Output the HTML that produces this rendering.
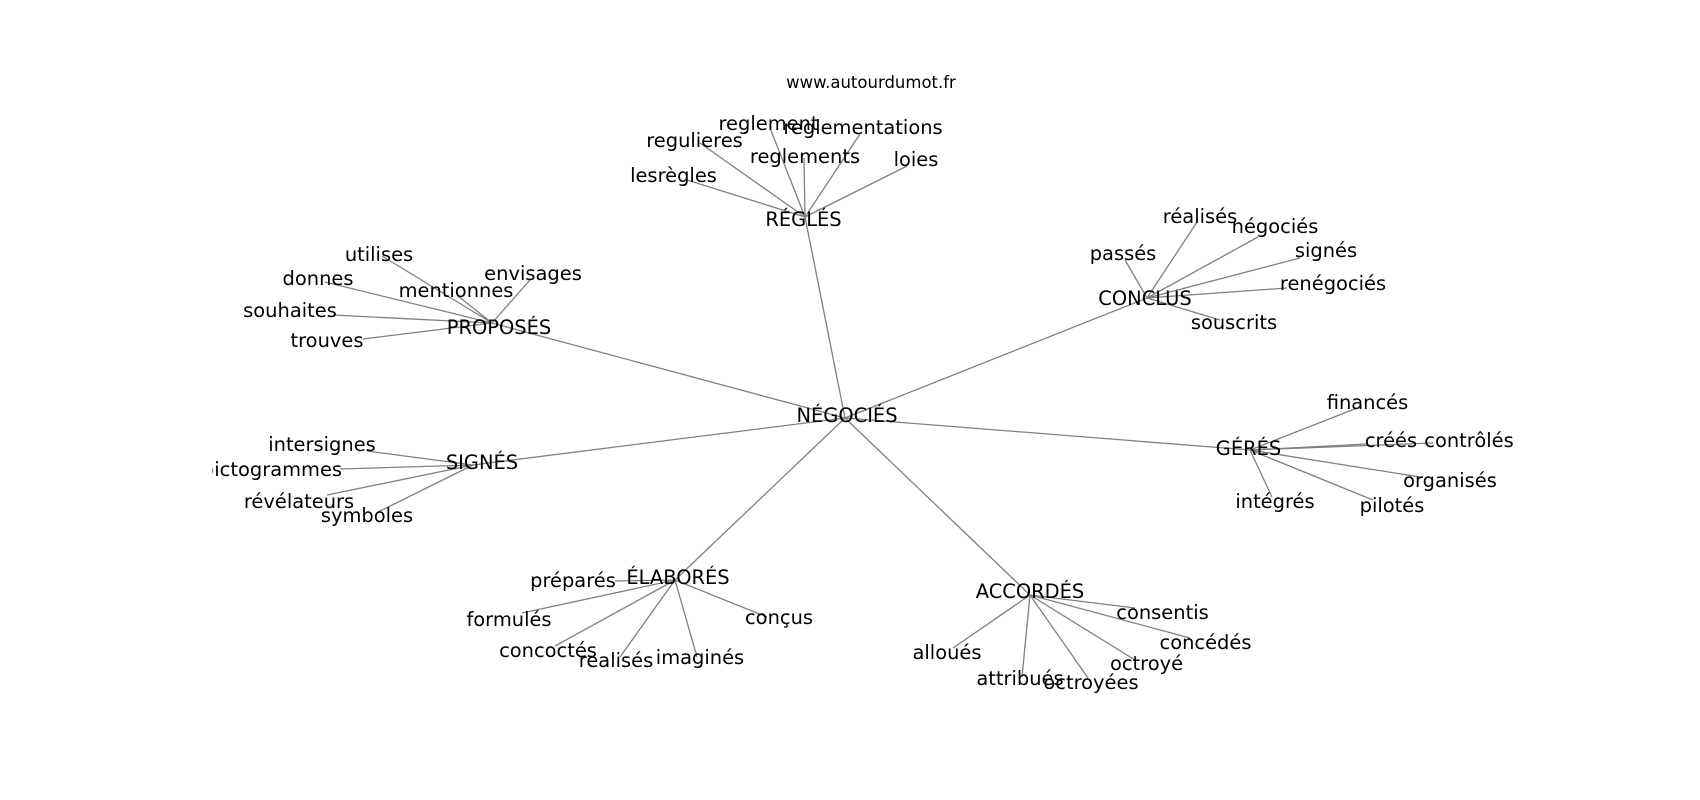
<!DOCTYPE html>
<html>
<head>
<meta charset="utf-8">
<style>
  html, body { margin:0; padding:0; background:#fff; }
  svg { display:block; }
  text { font-family: "DejaVu Sans", "Liberation Sans", sans-serif; fill:#000; }
</style>
</head>
<body>
<svg width="1700" height="800" viewBox="0 0 1700 800" xmlns="http://www.w3.org/2000/svg">
  <defs>
    <clipPath id="ax"><rect x="212.5" y="96" width="1317.5" height="616"/></clipPath>
  </defs>
  <rect width="1700" height="800" fill="#fff"/>
  <text x="871" y="88" font-size="16.5" text-anchor="middle">www.autourdumot.fr</text>

  <g stroke="#808080" stroke-width="1.3" fill="none" clip-path="url(#ax)">
    <!-- center to hubs -->
    <line x1="845" y1="418" x2="805" y2="217"/>
    <line x1="845" y1="418" x2="492" y2="323"/>
    <line x1="845" y1="418" x2="473" y2="465"/>
    <line x1="845" y1="418" x2="1147" y2="298"/>
    <line x1="845" y1="418" x2="1250" y2="450"/>
    <line x1="845" y1="418" x2="675" y2="580"/>
    <line x1="845" y1="418" x2="1030" y2="595"/>
    <!-- RÉGLÉS -->
    <line x1="805" y1="217" x2="700" y2="143"/>
    <line x1="805" y1="217" x2="770" y2="128"/>
    <line x1="805" y1="217" x2="860" y2="134"/>
    <line x1="805" y1="217" x2="804" y2="158"/>
    <line x1="805" y1="217" x2="687" y2="180"/>
    <line x1="805" y1="217" x2="907" y2="166"/>
    <!-- PROPOSÉS -->
    <line x1="492" y1="323" x2="382" y2="256"/>
    <line x1="492" y1="323" x2="325" y2="282"/>
    <line x1="492" y1="323" x2="530" y2="280"/>
    <line x1="492" y1="323" x2="458" y2="296"/>
    <line x1="492" y1="323" x2="333" y2="315"/>
    <line x1="492" y1="323" x2="363" y2="339"/>
    <!-- SIGNÉS -->
    <line x1="473" y1="465" x2="367" y2="451"/>
    <line x1="473" y1="465" x2="340" y2="469"/>
    <line x1="473" y1="465" x2="327" y2="495"/>
    <line x1="473" y1="465" x2="378" y2="512"/>
    <!-- CONCLUS -->
    <line x1="1147" y1="298" x2="1197" y2="222"/>
    <line x1="1147" y1="298" x2="1258" y2="237"/>
    <line x1="1147" y1="298" x2="1125" y2="260"/>
    <line x1="1147" y1="298" x2="1300" y2="258"/>
    <line x1="1147" y1="298" x2="1287" y2="288"/>
    <line x1="1147" y1="298" x2="1220" y2="320"/>
    <!-- GÉRÉS -->
    <line x1="1250" y1="450" x2="1357" y2="408"/>
    <line x1="1250" y1="450" x2="1367" y2="444"/>
    <line x1="1250" y1="450" x2="1433" y2="443"/>
    <line x1="1250" y1="450" x2="1420" y2="477"/>
    <line x1="1250" y1="450" x2="1373" y2="500"/>
    <line x1="1250" y1="450" x2="1272" y2="497"/>
    <!-- ÉLABORÉS -->
    <line x1="675" y1="580" x2="615" y2="581"/>
    <line x1="675" y1="580" x2="522" y2="613"/>
    <line x1="675" y1="580" x2="555" y2="646"/>
    <line x1="675" y1="580" x2="620" y2="657"/>
    <line x1="675" y1="580" x2="697" y2="657"/>
    <line x1="675" y1="580" x2="767" y2="617"/>
    <!-- ACCORDÉS -->
    <line x1="1030" y1="595" x2="1135" y2="608"/>
    <line x1="1030" y1="595" x2="1190" y2="638"/>
    <line x1="1030" y1="595" x2="1135" y2="660"/>
    <line x1="1030" y1="595" x2="1088" y2="678"/>
    <line x1="1030" y1="595" x2="1022" y2="677"/>
    <line x1="1030" y1="595" x2="953" y2="648"/>
  </g>

  <g font-size="19.44" text-anchor="middle" clip-path="url(#ax)">
    <text x="847" y="422">NÉGOCIÉS</text>

    <text x="803.5" y="226">RÉGLÉS</text>
    <text x="768.5" y="130">reglement</text>
    <text x="863" y="134">reglementations</text>
    <text x="694.5" y="147">regulieres</text>
    <text x="805" y="163">reglements</text>
    <text x="673.5" y="182">lesrègles</text>
    <text x="916" y="166">loies</text>

    <text x="499" y="334">PROPOSÉS</text>
    <text x="379" y="261">utilises</text>
    <text x="318" y="285">donnes</text>
    <text x="533" y="280">envisages</text>
    <text x="456" y="297">mentionnes</text>
    <text x="290" y="317">souhaites</text>
    <text x="327" y="347">trouves</text>

    <text x="482" y="469">SIGNÉS</text>
    <text x="322" y="451">intersignes</text>
    <text x="272" y="476">pictogrammes</text>
    <text x="299" y="508">révélateurs</text>
    <text x="367" y="522">symboles</text>

    <text x="1145" y="305">CONCLUS</text>
    <text x="1200" y="223">réalisés</text>
    <text x="1275" y="233">négociés</text>
    <text x="1123" y="260">passés</text>
    <text x="1326" y="257">signés</text>
    <text x="1333" y="290">renégociés</text>
    <text x="1234" y="329">souscrits</text>

    <text x="1248.5" y="455">GÉRÉS</text>
    <text x="1367.5" y="409">financés</text>
    <text x="1391" y="447">créés</text>
    <text x="1469" y="447">contrôlés</text>
    <text x="1450" y="487">organisés</text>
    <text x="1275" y="508">intégrés</text>
    <text x="1392" y="512">pilotés</text>

    <text x="678" y="584">ÉLABORÉS</text>
    <text x="573" y="587">préparés</text>
    <text x="509" y="626">formulés</text>
    <text x="779" y="624">conçus</text>
    <text x="548" y="657">concoctés</text>
    <text x="616" y="667">realisés</text>
    <text x="700" y="664">imaginés</text>

    <text x="1030" y="598">ACCORDÉS</text>
    <text x="1162.5" y="619">consentis</text>
    <text x="1205.5" y="649">concédés</text>
    <text x="947" y="659">alloués</text>
    <text x="1146.5" y="670">octroyé</text>
    <text x="1020" y="685">attribués</text>
    <text x="1091" y="689">octroyées</text>
  </g>
</svg>
</body>
</html>
